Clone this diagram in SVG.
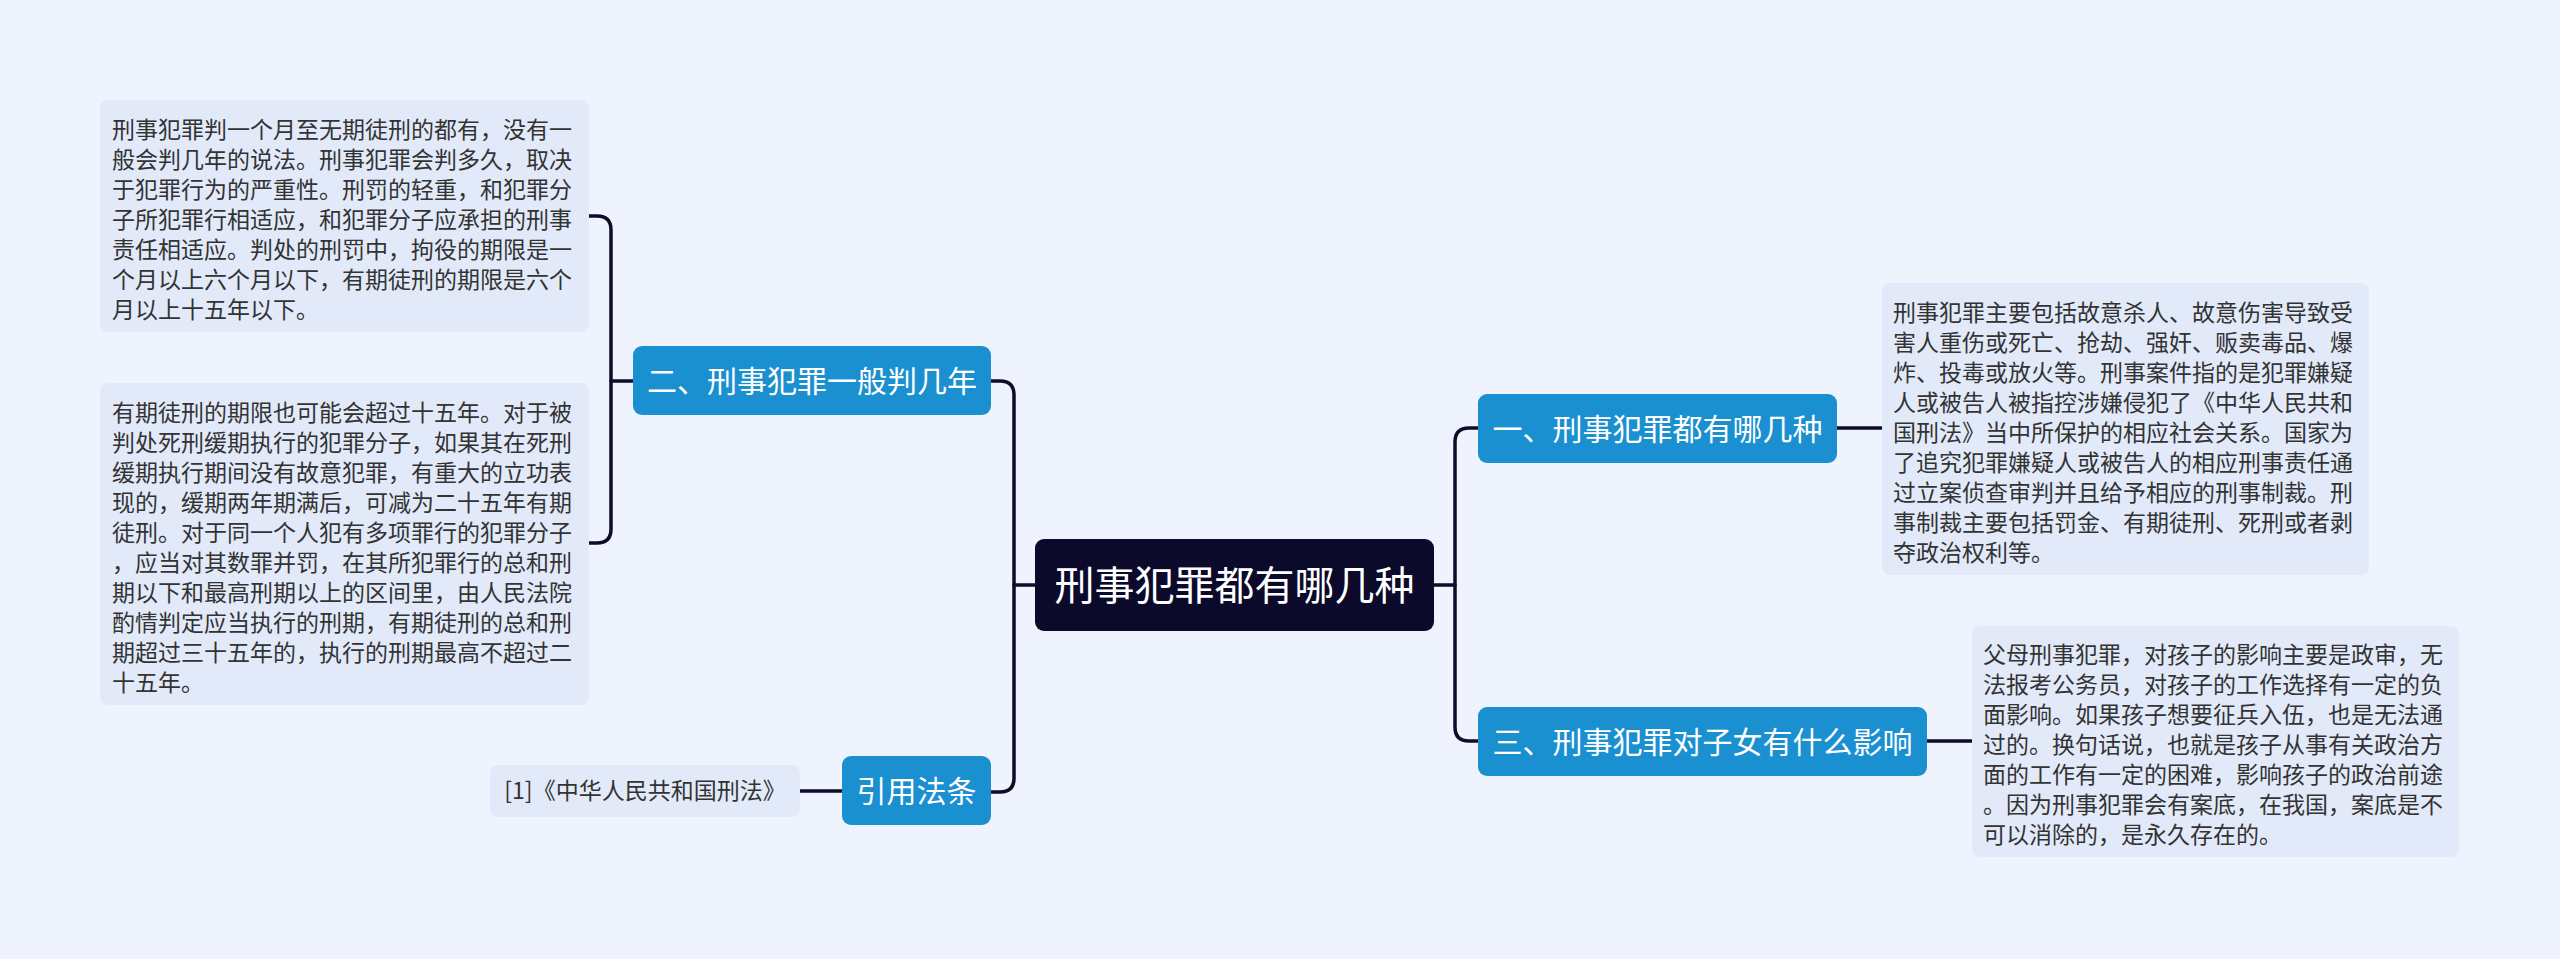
<svg xmlns="http://www.w3.org/2000/svg" width="2560" height="959" viewBox="0 0 2560 959">
<defs>
<style>
.bg{fill:#eef3fd}
.leaf rect{fill:#e2eafa}
.leaf text{font-family:"Noto Sans CJK SC","Noto Sans",sans-serif;font-size:23px;fill:#333333}
.topic rect{fill:#1a90d1}
.topic text{font-family:"Noto Sans CJK SC","Noto Sans",sans-serif;font-size:30px;fill:#ffffff;text-anchor:middle}
.root rect{fill:#0c0a2b}
.root text{font-family:"Noto Sans CJK SC","Noto Sans",sans-serif;font-size:40px;fill:#ffffff;text-anchor:middle}
.conn path{fill:none;stroke:#0f0c29;stroke-width:3.5;stroke-linecap:round}
</style>
</defs>
<rect class="bg" x="0" y="0" width="2560" height="959"/>
<g id="connectors" class="conn">
<path d="M1035 585H1014"/>
<path d="M991 381H1000Q1014 381 1014 395V778Q1014 792 1000 792H991"/>
<path d="M633 381H611"/>
<path d="M589 216H597Q611 216 611 230V529Q611 543 597 543H589"/>
<path d="M842 791H800"/>
<path d="M1434 585H1455"/>
<path d="M1478 428H1469Q1455 428 1455 442V727Q1455 741 1469 741H1478"/>
<path d="M1837 428H1882"/>
<path d="M1927 741H1972"/>
</g>
<g id="root" class="root">
<rect x="1035" y="539" width="399" height="92" rx="9"/>
<text x="1234.5" y="600">刑事犯罪都有哪几种</text>
</g>
<g id="topic1" class="topic">
<rect x="1478" y="394" width="359" height="69" rx="9"/>
<text x="1657.5" y="440">一、刑事犯罪都有哪几种</text>
</g>
<g id="topic2" class="topic">
<rect x="633" y="346" width="358" height="69" rx="9"/>
<text x="812" y="392">二、刑事犯罪一般判几年</text>
</g>
<g id="topic3" class="topic">
<rect x="1478" y="707" width="449" height="69" rx="9"/>
<text x="1702.5" y="753">三、刑事犯罪对子女有什么影响</text>
</g>
<g id="topic4" class="topic">
<rect x="842" y="756" width="149" height="69" rx="9"/>
<text x="916.5" y="802">引用法条</text>
</g>
<g id="leaf-ref" class="leaf">
<rect x="490" y="765" width="310" height="52" rx="8"/>
<text x="645" y="799" style="text-anchor:middle;font-size:23px">[1]《中华人民共和国刑法》</text>
</g>
<g id="leaf1" class="leaf">
<rect x="100" y="100" width="489" height="232" rx="8"/>
<text>
<tspan x="112" y="138">刑事犯罪判一个月至无期徒刑的都有，没有一</tspan>
<tspan x="112" y="168">般会判几年的说法。刑事犯罪会判多久，取决</tspan>
<tspan x="112" y="198">于犯罪行为的严重性。刑罚的轻重，和犯罪分</tspan>
<tspan x="112" y="228">子所犯罪行相适应，和犯罪分子应承担的刑事</tspan>
<tspan x="112" y="258">责任相适应。判处的刑罚中，拘役的期限是一</tspan>
<tspan x="112" y="288">个月以上六个月以下，有期徒刑的期限是六个</tspan>
<tspan x="112" y="318">月以上十五年以下。</tspan>
</text>
</g>
<g id="leaf2" class="leaf">
<rect x="100" y="383" width="489" height="322" rx="8"/>
<text>
<tspan x="112" y="421">有期徒刑的期限也可能会超过十五年。对于被</tspan>
<tspan x="112" y="451">判处死刑缓期执行的犯罪分子，如果其在死刑</tspan>
<tspan x="112" y="481">缓期执行期间没有故意犯罪，有重大的立功表</tspan>
<tspan x="112" y="511">现的，缓期两年期满后，可减为二十五年有期</tspan>
<tspan x="112" y="541">徒刑。对于同一个人犯有多项罪行的犯罪分子</tspan>
<tspan x="112" y="571">，应当对其数罪并罚，在其所犯罪行的总和刑</tspan>
<tspan x="112" y="601">期以下和最高刑期以上的区间里，由人民法院</tspan>
<tspan x="112" y="631">酌情判定应当执行的刑期，有期徒刑的总和刑</tspan>
<tspan x="112" y="661">期超过三十五年的，执行的刑期最高不超过二</tspan>
<tspan x="112" y="691">十五年。</tspan>
</text>
</g>
<g id="leaf3" class="leaf">
<rect x="1882" y="283" width="487" height="292" rx="8"/>
<text>
<tspan x="1893" y="321">刑事犯罪主要包括故意杀人、故意伤害导致受</tspan>
<tspan x="1893" y="351">害人重伤或死亡、抢劫、强奸、贩卖毒品、爆</tspan>
<tspan x="1893" y="381">炸、投毒或放火等。刑事案件指的是犯罪嫌疑</tspan>
<tspan x="1893" y="411">人或被告人被指控涉嫌侵犯了《中华人民共和</tspan>
<tspan x="1893" y="441">国刑法》当中所保护的相应社会关系。国家为</tspan>
<tspan x="1893" y="471">了追究犯罪嫌疑人或被告人的相应刑事责任通</tspan>
<tspan x="1893" y="501">过立案侦查审判并且给予相应的刑事制裁。刑</tspan>
<tspan x="1893" y="531">事制裁主要包括罚金、有期徒刑、死刑或者剥</tspan>
<tspan x="1893" y="561">夺政治权利等。</tspan>
</text>
</g>
<g id="leaf4" class="leaf">
<rect x="1972" y="626" width="487" height="231" rx="8"/>
<text>
<tspan x="1983" y="663">父母刑事犯罪，对孩子的影响主要是政审，无</tspan>
<tspan x="1983" y="693">法报考公务员，对孩子的工作选择有一定的负</tspan>
<tspan x="1983" y="723">面影响。如果孩子想要征兵入伍，也是无法通</tspan>
<tspan x="1983" y="753">过的。换句话说，也就是孩子从事有关政治方</tspan>
<tspan x="1983" y="783">面的工作有一定的困难，影响孩子的政治前途</tspan>
<tspan x="1983" y="813">。因为刑事犯罪会有案底，在我国，案底是不</tspan>
<tspan x="1983" y="843">可以消除的，是永久存在的。</tspan>
</text>
</g>
</svg>
